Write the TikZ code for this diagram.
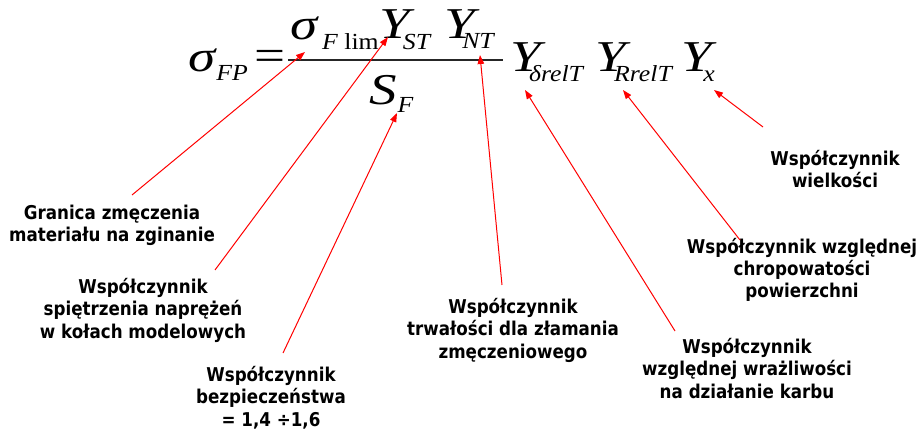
\documentclass[tikz,border=0pt]{standalone}
\usepackage{fontspec}
\setmainfont{Liberation Serif}
\newfontfamily\bigmf{Liberation Serif}[FakeStretch=1.25]
\newfontfamily\submf{Liberation Serif}[FakeStretch=1.12]
\newfontfamily\labfont{DejaVu Sans}[FakeStretch=0.88]
\usetikzlibrary{arrows.meta}
\tikzset{
  mbig/.style={font=\bigmf\fontsize{44}{44}\selectfont\itshape, inner sep=0pt, anchor=base},
  msub/.style={font=\submf\fontsize{23}{23}\selectfont\itshape, inner sep=0pt, anchor=base},
  lbl/.style={font=\labfont\bfseries\fontsize{19}{22.4}\selectfont, align=center, inner sep=0pt, anchor=base},
  ptr/.style={draw=red, line width=1pt, -{Triangle[length=9pt,width=6.5pt,fill=red]}},
  fracline/.style={draw=black!85, line width=1.3pt},
}
\begin{document}
\begin{tikzpicture}[x=1pt,y=-1pt]
\useasboundingbox[fill=white] (0,0) rectangle (921,430);
% formula
\node[mbig] (sFP) at (202,72) {σ};
\node[msub] (FP) at (232,81) {FP};
\node[mbig,anchor=center] (eq) at (270,60.5) {\upshape =};
\coordinate (fl) at (288,60);
\coordinate (fr) at (503,60);
\draw[fracline] (fl) -- (fr);
\node[mbig] (sig) at (304.5,40) {σ};
\node[msub,anchor=base west] (Flim) at (322,50) {F \upshape lim};
\node[mbig] (Y1) at (394.5,39) {Y};
\node[msub] (ST) at (416.5,50) {ST};
\node[mbig] (Y2) at (460,39) {Y};
\node[msub] (NT) at (478,49) {NT};
\node[mbig] (S) at (383.5,105) {S};
\node[msub] (SF) at (405.5,113) {F};
\node[mbig] (Y3) at (526,72) {Y};
\node[msub] (dr) at (556,82) {δrelT};
\node[mbig] (Y4) at (611,72) {Y};
\node[msub] (rr) at (643,82) {RrelT};
\node[mbig] (Y5) at (697,72) {Y};
\node[msub] (xx) at (709,82) {x};
% labels (base = last line)
\node[lbl] (L1) at (112,242) {Granica zmęczenia\\materiału na zginanie};
\node[lbl] (L2) at (143,338) {Współczynnik\\spiętrzenia naprężeń\\w kołach modelowych};
\node[lbl] (L3) at (271,426) {Współczynnik\\bezpieczeństwa\\= 1,4 ÷1,6};
\node[lbl] (L4) at (513,358) {Współczynnik\\trwałości dla złamania\\zmęczeniowego};
\node[lbl] (L5) at (747,398) {Współczynnik\\względnej wrażliwości\\na działanie karbu};
\node[lbl] (L6) at (802,298) {Współczynnik względnej\\chropowatości\\powierzchni};
\node[lbl] (L7) at (835,188) {Współczynnik\\wielkości};
% arrow ends
\coordinate (a1s) at (132,195); \coordinate (a1t) at (305,52);
\coordinate (a2s) at (215,270); \coordinate (a2t) at (388,37);
\coordinate (a3s) at (283,353); \coordinate (a3t) at (397,113);
\coordinate (a4s) at (502,285); \coordinate (a4t) at (480,55);
\coordinate (a5s) at (675,331); \coordinate (a5t) at (525,90);
\coordinate (a6s) at (740,240); \coordinate (a6t) at (623,90);
\coordinate (a7s) at (763,127); \coordinate (a7t) at (714,90);
\foreach \i in {1,...,7} {\draw[ptr] (a\i s) -- (a\i t);}
\end{tikzpicture}
\end{document}
